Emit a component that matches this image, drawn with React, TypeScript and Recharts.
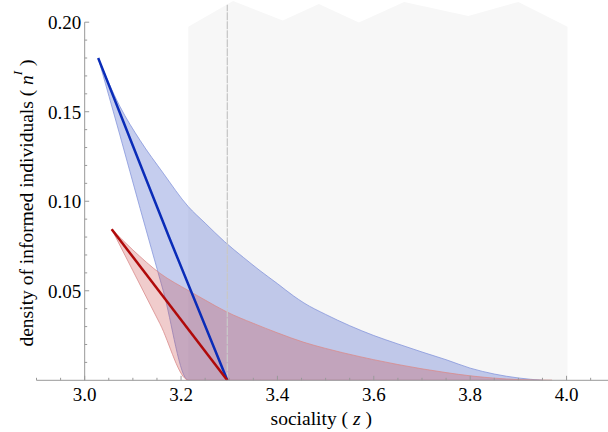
import React from "react";
import { ComposedChart, Area, Line, XAxis, YAxis, ReferenceLine } from "recharts";

const FONT = '"Liberation Serif"';

// ---- data ----
const blueBandX = [3.028, 3.073, 3.115, 3.163, 3.215, 3.25, 3.29, 3.33, 3.364, 3.4, 3.433, 3.455, 3.5, 3.55, 3.6, 3.65, 3.7, 3.75, 3.8, 3.85, 3.9, 3.95];
const blueBandLow = [0.18, 0.137, 0.096, 0.05, 0, 0, 0, 0, 0, 0, 0, 0, 0, 0, 0, 0, 0, 0, 0, 0, 0, 0];
const blueBandHigh = [0.18, 0.153, 0.134, 0.1157, 0.097, 0.0878, 0.0775, 0.0685, 0.0612, 0.054, 0.0472, 0.0432, 0.0368, 0.0305, 0.025, 0.0203, 0.0158, 0.0115, 0.0068, 0.0035, 0.0013, 0];

const redBandX = [3.056, 3.1, 3.156, 3.216, 3.25, 3.294, 3.35, 3.4, 3.455, 3.5, 3.571, 3.6, 3.65, 3.7, 3.75, 3.8, 3.85, 3.9, 3.97];
const redBandLow = [0.0844, 0.0612, 0.0317, 0, 0, 0, 0, 0, 0, 0, 0, 0, 0, 0, 0, 0, 0, 0, 0];
const redBandHigh = [0.0844, 0.0728, 0.0598, 0.05, 0.0448, 0.0383, 0.0318, 0.0265, 0.0212, 0.0178, 0.0132, 0.0115, 0.0088, 0.0064, 0.0043, 0.0025, 0.0012, 0.0004, 0];

const blueLineX = [3.028, 3.1, 3.175, 3.296];
const blueLineY = [0.18, 0.131, 0.08, 0];

const redLineX = [3.056, 3.296];
const redLineY = [0.0844, 0];

const grayX = [3.215, 3.308, 3.411, 3.486, 3.569, 3.663, 3.796, 3.9, 4.002];
const grayY = [0.1975, 0.2119, 0.2009, 0.2101, 0.1998, 0.2113, 0.2035, 0.2113, 0.1974];

const thresholdX = 3.296;
const thresholdTop = 0.2097;

const X_TICKS = [2.9, 2.95, 3.0, 3.05, 3.1, 3.15, 3.2, 3.25, 3.3, 3.35, 3.4, 3.45, 3.5, 3.55, 3.6, 3.65, 3.7, 3.75, 3.8, 3.85, 3.9, 3.95, 4.0, 4.05];
const X_MAJOR = ["3.0", "3.2", "3.4", "3.6", "3.8", "4.0"];
const Y_TICKS = [0.01, 0.02, 0.03, 0.04, 0.05, 0.06, 0.07, 0.08, 0.09, 0.1, 0.11, 0.12, 0.13, 0.14, 0.15, 0.16, 0.17, 0.18, 0.19, 0.2];
const Y_MAJOR = ["0.05", "0.10", "0.15", "0.20"];

const X_MIN = 2.9;
const X_MAX = 4.086;
const Y_MAX = 0.2124;
const Y_AXIS_AT = 3.0;

// ---- derived tables ----
const blueBand = blueBandX.map((x, i) => ({ x, lo: blueBandLow[i], hi: blueBandHigh[i] }));
const redBand = redBandX.map((x, i) => ({ x, lo: redBandLow[i], hi: redBandHigh[i] }));
const blueLine = blueLineX.map((x, i) => ({ x, y: blueLineY[i] }));
const redLine = redLineX.map((x, i) => ({ x, y: redLineY[i] }));
const grayRegion = grayX.map((x, i) => ({ x, y: grayY[i] }));

// ---- layout ----
const W = 608;
const H = 432;
const Y_AXIS_W = 36.5;
const X_AXIS_H = 51.7;
const PLOT_W = W - Y_AXIS_W;
const Y_AXIS_DX = ((Y_AXIS_AT - X_MIN) / (X_MAX - X_MIN)) * PLOT_W;
const AXIS_COLOR = "#999999";
const textStyle = { fontFamily: FONT, fontSize: 19 };
const labelStyle = { fontFamily: FONT, fontSize: 19.5 };

const XTick = (props: any) => {
  const { x, y, payload } = props;
  const label = Number(payload.value).toFixed(1);
  const major = X_MAJOR.includes(label) && Math.abs(payload.value - Number(label)) < 1e-6;
  return (
    <g>
      <line x1={x} x2={x} y1={y} y2={y - (major ? 4.5 : 2.5)} stroke={AXIS_COLOR} strokeWidth={1} />
      {major && (
        <text x={x} y={y + 20.7} textAnchor="middle" style={textStyle} fill="#000">
          {label}
        </text>
      )}
    </g>
  );
};

const YTick = (props: any) => {
  const { x, y, payload } = props;
  const label = Number(payload.value).toFixed(2);
  const major = Y_MAJOR.includes(label);
  const ax = x + Y_AXIS_DX;
  return (
    <g>
      <line x1={ax} x2={ax + (major ? 4.5 : 2.5)} y1={y} y2={y} stroke={AXIS_COLOR} strokeWidth={1} />
      {major && (
        <text x={ax - 3.5} y={y + 7} textAnchor="end" style={textStyle} fill="#000">
          {label}
        </text>
      )}
    </g>
  );
};

const XLabel = (props: any) => {
  const vb = props.viewBox || { x: Y_AXIS_W, y: H - X_AXIS_H, width: PLOT_W, height: X_AXIS_H };
  const cx = vb.x + vb.width / 2 - 1;
  const by = vb.y + 44.7;
  return (
    <text x={cx} y={by} textAnchor="middle" style={labelStyle} fill="#000">
      sociality ( <tspan fontStyle="italic">z</tspan> )
    </text>
  );
};

const YLabel = () => {
  const cx = 33;
  const cy = 203;
  return (
    <text
      x={cx}
      y={cy}
      transform={`rotate(-90, ${cx}, ${cy})`}
      textAnchor="middle"
      style={labelStyle}
      fill="#000"
    >
      density of informed individuals ( <tspan fontStyle="italic">n</tspan>
      <tspan fontStyle="italic" style={{ fontSize: 13 }} dy={-11}>I</tspan>
      <tspan dy={11}> )</tspan>
    </text>
  );
};

const bandKey = (d: any) => [d.lo, d.hi];

export default function App() {
  return (
    <div style={{ position: "absolute", left: 0, top: 0, width: W, height: H, background: "#fff" }}>
      <ComposedChart width={W} height={H} margin={{ top: 0, right: 0, bottom: 0, left: 0 }}>
        <XAxis
          dataKey="x"
          type="number"
          domain={[X_MIN, X_MAX]}
          allowDataOverflow
          ticks={X_TICKS}
          interval={0}
          height={X_AXIS_H}
          tickSize={0}
          tickMargin={0}
          tickLine={false}
          tick={XTick}
          axisLine={{ stroke: AXIS_COLOR, strokeWidth: 1 }}
          label={{ content: XLabel }}
        />
        <YAxis
          type="number"
          domain={[0, Y_MAX]}
          allowDataOverflow
          ticks={Y_TICKS}
          interval={0}
          width={Y_AXIS_W}
          tickSize={0}
          tickMargin={0}
          tickLine={false}
          axisLine={false}
          tick={YTick}
          label={{ content: YLabel }}
        />
        <Area
          data={grayRegion}
          dataKey="y"
          type="linear"
          fill="#f7f7f7"
          fillOpacity={1}
          stroke="none"
          isAnimationActive={false}
          dot={false}
          activeDot={false}
        />
        <ReferenceLine
          segment={[{ x: thresholdX, y: 0 }, { x: thresholdX, y: thresholdTop }]}
          stroke="#c8c8c8"
          strokeWidth={1.3}
          strokeDasharray="8 1"
        />
        <Area
          data={blueBand}
          dataKey={bandKey}
          type="monotoneX"
          fill="#5a6fcf"
          fillOpacity={0.35}
          stroke="#8797dc"
          strokeWidth={0.8}
          isAnimationActive={false}
          dot={false}
          activeDot={false}
        />
        <Area
          data={redBand}
          dataKey={bandKey}
          type="monotoneX"
          fill="#c84848"
          fillOpacity={0.28}
          stroke="#d98c8c"
          strokeWidth={0.8}
          isAnimationActive={false}
          dot={false}
          activeDot={false}
        />
        <ReferenceLine
          segment={[{ x: Y_AXIS_AT, y: 0 }, { x: Y_AXIS_AT, y: 0.2 }]}
          stroke={AXIS_COLOR}
          strokeWidth={1}
        />
        <Line
          data={blueLine}
          dataKey="y"
          type="monotoneX"
          stroke="#0a2cb8"
          strokeWidth={2.5}
          dot={false}
          activeDot={false}
          isAnimationActive={false}
        />
        <Line
          data={redLine}
          dataKey="y"
          type="linear"
          stroke="#b00a0a"
          strokeWidth={2.5}
          dot={false}
          activeDot={false}
          isAnimationActive={false}
        />
      </ComposedChart>
    </div>
  );
}
